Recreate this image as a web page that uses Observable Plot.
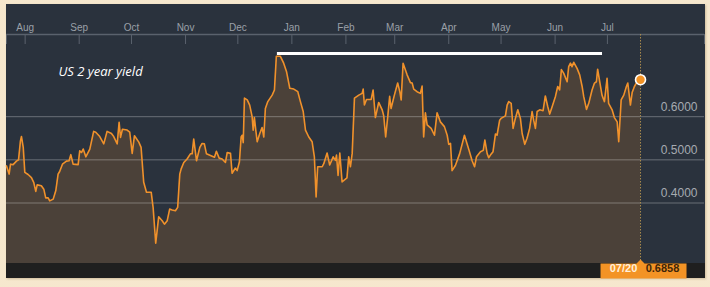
<!DOCTYPE html>
<html><head><meta charset="utf-8">
<script src="https://cdn.jsdelivr.net/npm/d3@7"></script>
<script src="https://cdn.jsdelivr.net/npm/@observablehq/plot@0.6"></script>
<style>
html,body{margin:0;padding:0;background:#fbf2e2;}
#frame{position:relative;width:710px;height:287px;background-color:#fbf2e2;background-image:radial-gradient(#f0d6ac 0.55px, transparent 0.8px);background-size:2px 2px;overflow:hidden;}
#chart{position:absolute;left:6px;top:4px;box-shadow:1px 1px 2px rgba(120,90,40,0.3);}
#chart svg{display:block;background:linear-gradient(to bottom,#2a323d 0,#2a323d 259px,#1f1f1f 259px,#1f1f1f 274px) !important;}
</style></head><body><div id="frame"><div id="chart"></div></div>
<script>
// Days after 2014-08-01 for each observation
const dayOffsets = [
-10.7,-9.2,-8.4,-6.9,-5.0,-3.8,-2.7,-2.1,-1.1,-0.2,
1.7,3.6,4.9,6.1,6.9,9.3,10.7,11.8,13.2,14.1,
16.1,17.6,18.9,19.8,21.4,23.7,25.2,26.2,27.5,30.4,
31.3,32.3,33.3,34.8,37.1,39.3,40.5,42.8,45.1,47.0,
49.5,50.8,52.8,53.9,54.7,55.8,58.5,60.0,61.4,62.7,
65.2,66.5,68.0,69.6,72.3,73.4,74.9,76.6,78.6,79.9,
81.5,82.9,84.3,86.2,87.5,88.7,89.5,91.0,92.9,94.8,
95.8,96.7,98.3,100.2,101.5,102.8,104.0,106.3,108.6,109.7,
111.3,113.0,114.9,115.9,117.8,118.7,120.6,121.6,122.9,123.9,
124.5,125.1,125.8,127.4,128.8,130.2,130.8,131.5,132.3,133.1,
134.6,135.9,136.9,137.8,139.2,141.7,143.0,144.1,146.4,148.3,
149.9,151.8,154.1,156.4,157.9,159.5,160.8,162.7,164.6,165.9,
166.9,167.8,170.4,171.3,173.2,174.7,176.7,178.0,178.6,179.5,
180.5,181.8,184.6,185.6,186.6,187.6,188.9,191.4,193.3,193.9,
194.6,195.8,198.5,199.6,200.9,202.8,204.8,205.7,206.8,208.0,
209.1,209.9,211.8,213.7,214.9,215.7,216.8,219.1,221.0,222.0,
222.9,224.8,226.7,227.7,228.6,229.6,230.6,232.9,234.8,236.3,
238.2,240.5,242.1,243.0,244.0,244.9,246.8,249.3,252.0,254.5,
256.4,257.8,258.9,261.2,262.8,263.7,265.0,265.9,266.9,268.4,
269.8,270.7,272.2,273.0,275.5,276.5,277.4,278.8,279.9,281.2,
282.6,284.1,285.1,286.6,287.9,289.4,290.8,291.7,292.7,293.7,
295.2,297.1,298.4,299.8,300.9,302.3,304.2,305.5,306.6,307.6,
308.9,310.9,311.8,312.8,313.7,314.7,316.6,318.1,319.5,320.4,
322.0,323.3,325.2,326.6,327.7,328.4,329.6,330.9,332.3,333.8,
334.7,336.7,338.0,339.6,340.5,341.9,343.4,344.9,345.7,347.2,
348.2,349.5,350.6,353
];
const yields = [
0.486,0.467,0.490,0.489,0.497,0.500,0.544,0.554,0.529,0.471,
0.466,0.459,0.448,0.427,0.442,0.440,0.432,0.412,0.412,0.405,
0.409,0.429,0.467,0.473,0.490,0.497,0.498,0.512,0.490,0.489,
0.521,0.517,0.525,0.507,0.525,0.566,0.564,0.554,0.537,0.566,
0.561,0.554,0.537,0.587,0.552,0.571,0.569,0.564,0.515,0.556,
0.541,0.529,0.448,0.425,0.425,0.390,0.307,0.368,0.359,0.351,
0.359,0.386,0.384,0.382,0.390,0.467,0.479,0.494,0.502,0.514,
0.514,0.548,0.498,0.529,0.538,0.537,0.514,0.510,0.506,0.520,
0.504,0.502,0.494,0.517,0.515,0.469,0.481,0.475,0.495,0.553,
0.557,0.540,0.643,0.639,0.627,0.600,0.569,0.598,0.569,0.542,
0.561,0.575,0.553,0.619,0.635,0.650,0.662,0.740,0.740,0.724,
0.705,0.666,0.664,0.658,0.635,0.612,0.569,0.553,0.542,0.507,
0.414,0.484,0.484,0.491,0.516,0.488,0.507,0.499,0.511,0.464,
0.516,0.449,0.458,0.507,0.484,0.515,0.643,0.650,0.654,0.664,
0.627,0.640,0.640,0.662,0.598,0.633,0.616,0.602,0.553,0.600,
0.647,0.619,0.650,0.678,0.658,0.639,0.724,0.697,0.679,0.678,
0.664,0.658,0.654,0.671,0.553,0.609,0.581,0.573,0.557,0.609,
0.588,0.577,0.557,0.536,0.538,0.475,0.487,0.515,0.557,0.524,
0.498,0.484,0.507,0.519,0.522,0.546,0.515,0.505,0.511,0.519,
0.560,0.557,0.592,0.596,0.602,0.627,0.635,0.631,0.573,0.596,
0.616,0.596,0.561,0.536,0.550,0.573,0.612,0.592,0.573,0.612,
0.616,0.614,0.648,0.623,0.606,0.623,0.647,0.670,0.662,0.709,
0.701,0.681,0.716,0.724,0.716,0.726,0.712,0.697,0.670,0.647,
0.617,0.631,0.662,0.678,0.681,0.710,0.681,0.650,0.635,0.689,
0.631,0.616,0.598,0.588,0.542,0.639,0.650,0.670,0.678,0.627,
0.656,0.670,0.678,0.6858
];
const monthLabels = ["Aug","Sep","Oct","Nov","Dec","Jan","Feb","Mar","Apr","May","Jun","Jul"];
const yTicks = [0.4, 0.5, 0.6];
const viewDays = [-10.7, 389.7];          // visible time window, days after 2014-08-01
const yDomain = [0.2598, 0.7905];
const resistance = [{from: 144.7, to: 331.2, level: 0.7465}];
const title = "US 2 year yield";

const base = Date.UTC(2014, 7, 1);
const toDate = d => new Date(base + d * 864e5);
const data = dayOffsets.map((d, i) => ({date: toDate(d), value: yields[i]}));
const last = data[data.length - 1];
const xDomain = viewDays.map(toDate);
const monthDates = d3.utcMonth.range(new Date(base), d3.utcMonth.offset(new Date(base), 12));
const tickDates = [xDomain[0], ...monthDates, xDomain[1]];

const orange = "#f39325";
const calloutShape = {
  draw(ctx) {
    ctx.moveTo(-40, 15); ctx.lineTo(-40, 0); ctx.lineTo(-4, 0); ctx.lineTo(0, -4);
    ctx.lineTo(4, 0); ctx.lineTo(46, 0); ctx.lineTo(46, 15); ctx.closePath();
  }
};
const font = "'Liberation Sans', Arial, sans-serif";

const chart = Plot.plot({
  width: 699, height: 274,
  marginLeft: 0, marginRight: 1, marginTop: 30, marginBottom: 15,
  x: {type: "utc", domain: xDomain, axis: null},
  y: {domain: yDomain, axis: null},
  style: {fontFamily: font, background: "transparent", overflow: "visible"},
  marks: [
    Plot.areaY(data, {x: "date", y1: yDomain[0], y2: "value", fill: "#4b4139"}),
    Plot.ruleY(yTicks, {stroke: "rgba(255,255,255,0.3)", strokeWidth: 1}),
    Plot.text(yTicks, {y: d => d, frameAnchor: "right", dx: -7, dy: -10, textAnchor: "end",
      text: d => d3.format(".4f")(d), fill: "#a6abb1", fontSize: 12}),
    Plot.ruleY([yDomain[1]], {stroke: "#5a626d", strokeWidth: 1.5}),
    Plot.ruleX(tickDates, {x: d => d, stroke: "#5a626d", strokeWidth: 1, insetBottom: 219}),
    Plot.text(monthDates, {x: d => d, text: (d, i) => monthLabels[i], frameAnchor: "top", dy: -11,
      fill: "#9aa0a8", fontSize: 10}),
    Plot.ruleY(resistance, {y: "level", x1: d => toDate(d.from), x2: d => toDate(d.to),
      stroke: "white", strokeWidth: 3}),
    Plot.text([title], {text: d => d, frameAnchor: "top-left", dx: 52, dy: 32, textAnchor: "start",
      fill: "white", fontSize: 13, fontStyle: "italic", fontFamily: "'Open Sans', sans-serif"}),
    Plot.ruleX([last], {x: "date", stroke: "#a98b4e", strokeWidth: 1, strokeDasharray: "1.5,1.5"}),
    Plot.lineY(data, {x: "date", y: "value", stroke: "#f0912b", strokeWidth: 1.6}),
    Plot.dot([last], {x: "date", y: "value", r: 5, fill: orange, stroke: "white", strokeWidth: 1.6}),
    Plot.dot([last], {x: "date", frameAnchor: "bottom", symbol: calloutShape, r: 3, fill: orange, stroke: "none"}),
    Plot.text([last], {x: "date", frameAnchor: "bottom", dx: -17, dy: 8.5,
      text: d => d3.utcFormat("%m/%d")(d.date), fill: "#fff0db", fontSize: 11, fontWeight: "bold"}),
    Plot.text([last], {x: "date", frameAnchor: "bottom", dx: 22, dy: 8.5,
      text: d => d3.format(".4f")(d.value), fill: "#3f2609", fontSize: 11, fontWeight: "bold"})
  ]
});
document.getElementById("chart").append(chart);
</script></body></html>
